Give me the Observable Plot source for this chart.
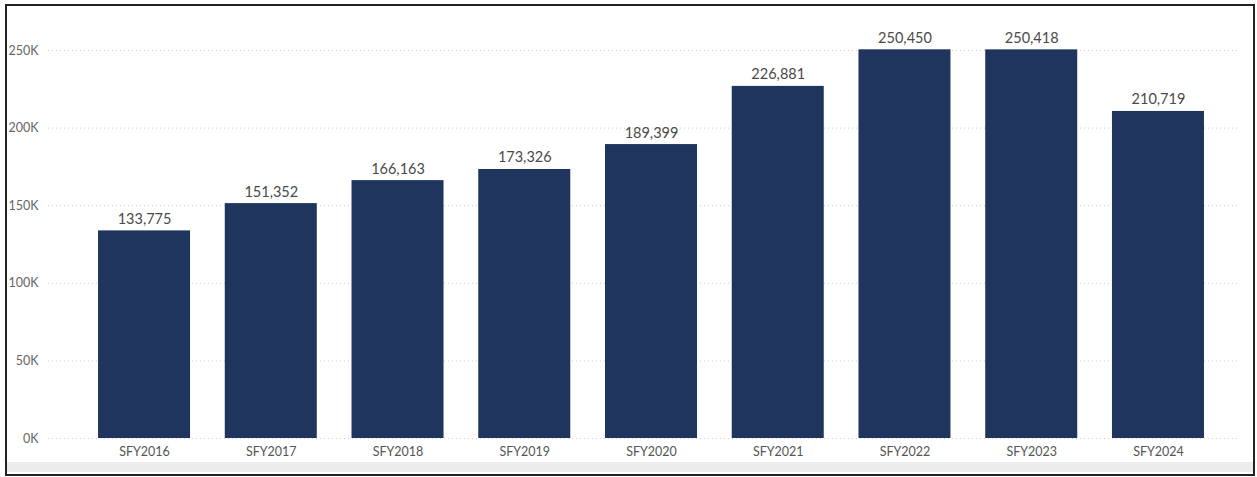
<!DOCTYPE html>
<html>
<head>
<meta charset="utf-8">
<script src="https://cdn.jsdelivr.net/npm/d3@7"></script>
<script src="https://cdn.jsdelivr.net/npm/@observablehq/plot@0.6"></script>
<style>
  html, body { margin: 0; padding: 0; background: #fff; }
  #wrap { position: relative; width: 1257px; height: 477px; overflow: hidden; }
  #frame { position: absolute; left: 5px; top: 4px; width: 1246px; height: 468px; border: 2px solid #222; box-sizing: content-box; }
  #band { position: absolute; left: 7px; top: 462px; width: 1246px; height: 10px; background: #ececec; }
  #chart { position: absolute; left: 0; top: 0; }
</style>
</head>
<body>
<div id="wrap">
  <div id="band"></div>
  <div id="chart"></div>
  <div id="frame"></div>
</div>
<script>
const categories = ["SFY2016","SFY2017","SFY2018","SFY2019","SFY2020","SFY2021","SFY2022","SFY2023","SFY2024"];
const values = [133775, 151352, 166163, 173326, 189399, 226881, 250450, 250418, 210719];
const yTicks = [0, 50000, 100000, 150000, 200000, 250000];

const data = categories.map((c, i) => ({year: c, value: values[i]}));

const chart = Plot.plot({
  width: 1257,
  height: 477,
  marginLeft: 48,
  marginRight: 17,
  marginTop: 50,
  marginBottom: 39,
  style: {fontFamily: "Lato, 'Open Sans', sans-serif", background: "transparent"},
  x: {domain: categories, range: [63.3, 1238.7], padding: 0.274, round: false, label: null},
  y: {domain: [0, 250000], range: [438, 50], label: null},
  marks: [
    Plot.gridY(yTicks, {stroke: "#cccccc", strokeOpacity: 1, strokeDasharray: "1,3", strokeWidth: 1}),
    Plot.barY(data, {x: "year", y: "value", fill: "#1f355e"}),
    Plot.text(data, {x: "year", y: "value", text: d => d3.format(",")(d.value), lineAnchor: "bottom", dy: -7, fontSize: 14.5, fill: "#4a4a4a"}),
    Plot.axisY({ticks: yTicks, tickFormat: d => (d / 1000) + "K", tickSize: 0, tickPadding: 10, fontSize: 12.5, fill: "#666", label: null}),
    Plot.axisX({tickSize: 0, tickPadding: 9, fontSize: 12.5, fill: "#555", label: null})
  ]
});
document.getElementById("chart").appendChild(chart);
</script>
</body>
</html>
